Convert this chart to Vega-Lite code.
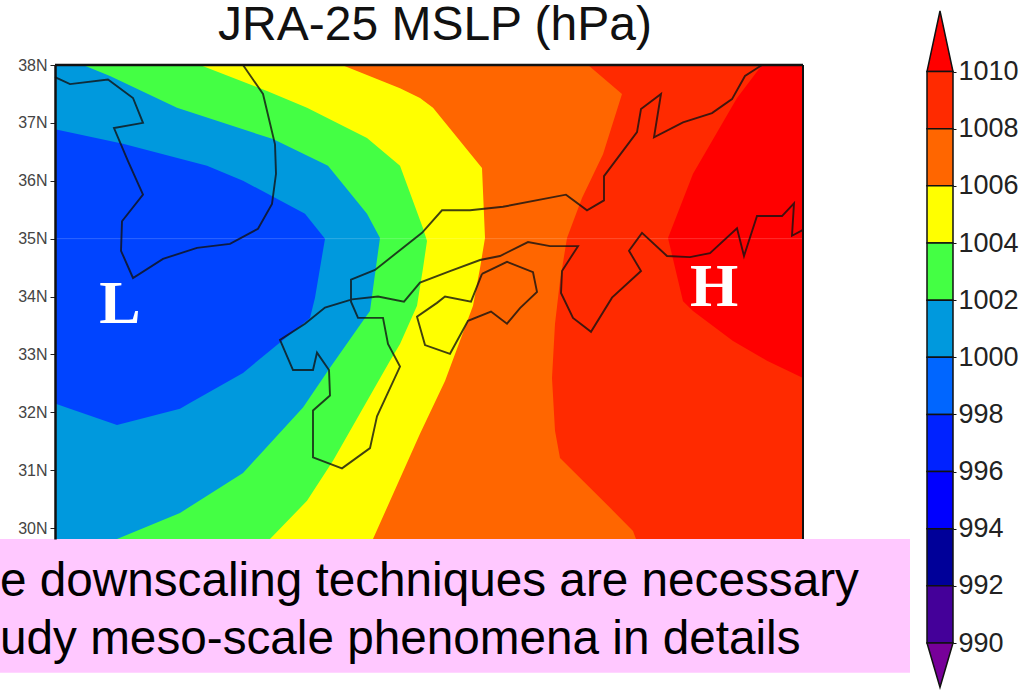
{"$schema":"https://vega.github.io/schema/vega-lite/v6.json","padding":{"left":0,"top":2,"right":0,"bottom":0},"background":"white","spacing":14,"config":{"view":{"stroke":null},"font":"Liberation Sans"},
"resolve":{"scale":{"color":"independent"}},
"datasets":{"one":[{"note":"annotation"}],"bands":[
{"band":">1010","lat":38,"west":125,"east":139.96},{"band":">1010","lat":29.81,"west":125,"east":139.96},
{"band":"1008-1010","lat":38,"west":125,"east":139.14},{"band":"1008-1010","lat":37.43,"west":125,"east":138.64},{"band":"1008-1010","lat":36.12,"west":125,"east":137.76},{"band":"1008-1010","lat":35.01,"west":125,"east":137.26},{"band":"1008-1010","lat":33.92,"west":125,"east":137.56},{"band":"1008-1010","lat":33.75,"west":125,"east":137.76},{"band":"1008-1010","lat":33.23,"west":125,"east":138.56},{"band":"1008-1010","lat":32.89,"west":125,"east":139.24},{"band":"1008-1010","lat":32.59,"west":125,"east":139.96},{"band":"1008-1010","lat":29.81,"west":125,"east":139.96},
{"band":"1006-1008","lat":38,"west":125,"east":135.66},{"band":"1006-1008","lat":37.5,"west":125,"east":136.34},{"band":"1006-1008","lat":36.46,"west":125,"east":135.96},{"band":"1006-1008","lat":35.7,"west":125,"east":135.54},{"band":"1006-1008","lat":35.01,"west":125,"east":135.24},{"band":"1006-1008","lat":34.27,"west":125,"east":135.1},{"band":"1006-1008","lat":33.53,"west":125,"east":135},{"band":"1006-1008","lat":32.59,"west":125,"east":134.94},{"band":"1006-1008","lat":31.68,"west":125,"east":135},{"band":"1006-1008","lat":31.21,"west":125,"east":135.1},{"band":"1006-1008","lat":30.3,"west":125,"east":136.16},{"band":"1006-1008","lat":29.95,"west":125,"east":136.56},{"band":"1006-1008","lat":29.81,"west":125,"east":136.62},
{"band":"1004-1006","lat":38,"west":125,"east":130.74},{"band":"1004-1006","lat":37.6,"west":125,"east":131.9},{"band":"1004-1006","lat":37.43,"west":125,"east":132.3},{"band":"1004-1006","lat":37.26,"west":125,"east":132.56},{"band":"1004-1006","lat":36.22,"west":125,"east":133.54},{"band":"1004-1006","lat":35.01,"west":125,"east":133.6},{"band":"1004-1006","lat":34.49,"west":125,"east":133.5},{"band":"1004-1006","lat":33.84,"west":125,"east":133.36},{"band":"1004-1006","lat":32.54,"west":125,"east":132.8},{"band":"1004-1006","lat":31.63,"west":125,"east":132.3},{"band":"1004-1006","lat":29.81,"west":125,"east":131.36},
{"band":"1002-1004","lat":38,"west":125,"east":127.9},{"band":"1002-1004","lat":37.55,"west":125,"east":129.24},{"band":"1002-1004","lat":37.26,"west":125,"east":130.04},{"band":"1002-1004","lat":36.74,"west":125,"east":131.24},{"band":"1002-1004","lat":36.26,"west":125,"east":131.9},{"band":"1002-1004","lat":35.18,"west":125,"east":132.36},{"band":"1002-1004","lat":34.96,"west":125,"east":132.44},{"band":"1002-1004","lat":34.49,"west":125,"east":132.36},{"band":"1002-1004","lat":33.84,"west":125,"east":132.24},{"band":"1002-1004","lat":33.18,"west":125,"east":131.9},{"band":"1002-1004","lat":32.89,"west":125,"east":131.7},{"band":"1002-1004","lat":31.16,"west":125,"east":130.56},{"band":"1002-1004","lat":30.47,"west":125,"east":130.04},{"band":"1002-1004","lat":29.81,"west":125,"east":129.3},
{"band":"1000-1002","lat":38,"west":125,"east":125.56},{"band":"1000-1002","lat":37.81,"west":125,"east":126.1},{"band":"1000-1002","lat":37.26,"west":125,"east":127.44},{"band":"1000-1002","lat":36.72,"west":125,"east":129.36},{"band":"1000-1002","lat":36.26,"west":125,"east":130.46},{"band":"1000-1002","lat":35.43,"west":125,"east":131.24},{"band":"1000-1002","lat":35.01,"west":125,"east":131.5},{"band":"1000-1002","lat":34.39,"west":125,"east":131.4},{"band":"1000-1002","lat":33.75,"west":125,"east":131.3},{"band":"1000-1002","lat":33.58,"west":125,"east":131.16},{"band":"1000-1002","lat":32.77,"west":125,"east":130.5},{"band":"1000-1002","lat":32.08,"west":125,"east":129.96},{"band":"1000-1002","lat":30.95,"west":125,"east":128.76},{"band":"1000-1002","lat":30.26,"west":125,"east":127.5},{"band":"1000-1002","lat":29.81,"west":125,"east":126.24},
{"band":"998-1000","lat":36.89,"west":125,"east":125},{"band":"998-1000","lat":36.64,"west":125,"east":126.36},{"band":"998-1000","lat":36.26,"west":125,"east":128.04},{"band":"998-1000","lat":36,"west":125,"east":128.76},{"band":"998-1000","lat":35.43,"west":125,"east":130},{"band":"998-1000","lat":35,"west":125,"east":130.4},{"band":"998-1000","lat":33.98,"west":125,"east":130.2},{"band":"998-1000","lat":33.63,"west":125,"east":130.1},{"band":"998-1000","lat":32.68,"west":125,"east":128.76},{"band":"998-1000","lat":32.15,"west":125,"east":127.68},{"band":"998-1000","lat":32.06,"west":125.3,"east":127.5},{"band":"998-1000","lat":31.78,"west":126.24,"east":126.24}
],
"coast":[
{"seg":"korea","n":1,"lon":125,"lat":37.79},{"seg":"korea","n":2,"lon":125.3,"lat":37.67},{"seg":"korea","n":3,"lon":126.06,"lat":37.75},{"seg":"korea","n":4,"lon":126.56,"lat":37.43},{"seg":"korea","n":5,"lon":126.76,"lat":37},{"seg":"korea","n":6,"lon":126.18,"lat":36.91},{"seg":"korea","n":7,"lon":126.46,"lat":36.34},{"seg":"korea","n":8,"lon":126.76,"lat":35.76},{"seg":"korea","n":9,"lon":126.34,"lat":35.3},{"seg":"korea","n":10,"lon":126.32,"lat":34.79},{"seg":"korea","n":11,"lon":126.56,"lat":34.32},{"seg":"korea","n":12,"lon":127.16,"lat":34.65},{"seg":"korea","n":13,"lon":127.84,"lat":34.84},{"seg":"korea","n":14,"lon":128.5,"lat":34.91},{"seg":"korea","n":15,"lon":129.06,"lat":35.17},{"seg":"korea","n":16,"lon":129.34,"lat":35.6},{"seg":"korea","n":17,"lon":129.42,"lat":36.12},{"seg":"korea","n":18,"lon":129.4,"lat":36.63},{"seg":"korea","n":19,"lon":129.16,"lat":37.5},{"seg":"korea","n":20,"lon":128.76,"lat":38},
{"seg":"japan","n":1,"lon":139.14,"lat":38},{"seg":"japan","n":2,"lon":138.8,"lat":37.81},{"seg":"japan","n":3,"lon":138.54,"lat":37.41},{"seg":"japan","n":4,"lon":138.14,"lat":37.17},{"seg":"japan","n":5,"lon":137.56,"lat":37.01},{"seg":"japan","n":6,"lon":136.98,"lat":36.75},{"seg":"japan","n":7,"lon":137.12,"lat":37.5},{"seg":"japan","n":8,"lon":136.72,"lat":37.24},{"seg":"japan","n":9,"lon":136.64,"lat":36.84},{"seg":"japan","n":10,"lon":135.98,"lat":36.08},{"seg":"japan","n":11,"lon":135.98,"lat":35.66},{"seg":"japan","n":12,"lon":135.64,"lat":35.49},{"seg":"japan","n":13,"lon":135.22,"lat":35.76},{"seg":"japan","n":14,"lon":133.96,"lat":35.55},{"seg":"japan","n":15,"lon":133.3,"lat":35.49},{"seg":"japan","n":16,"lon":132.74,"lat":35.49},{"seg":"japan","n":17,"lon":132.34,"lat":35.1},{"seg":"japan","n":18,"lon":131.4,"lat":34.46},{"seg":"japan","n":19,"lon":130.92,"lat":34.29},{"seg":"japan","n":20,"lon":130.92,"lat":33.91},{"seg":"japan","n":21,"lon":131.06,"lat":33.63},{"seg":"japan","n":22,"lon":131.56,"lat":33.63},{"seg":"japan","n":23,"lon":131.66,"lat":33.18},{"seg":"japan","n":24,"lon":131.9,"lat":32.79},{"seg":"japan","n":25,"lon":131.44,"lat":31.93},{"seg":"japan","n":26,"lon":131.3,"lat":31.38},{"seg":"japan","n":27,"lon":130.74,"lat":31.03},{"seg":"japan","n":28,"lon":130.16,"lat":31.22},{"seg":"japan","n":29,"lon":130.16,"lat":32.03},{"seg":"japan","n":30,"lon":130.5,"lat":32.29},{"seg":"japan","n":31,"lon":130.48,"lat":32.73},{"seg":"japan","n":32,"lon":130.24,"lat":33.03},{"seg":"japan","n":33,"lon":130.16,"lat":32.73},{"seg":"japan","n":34,"lon":129.76,"lat":32.73},{"seg":"japan","n":35,"lon":129.5,"lat":33.25},{"seg":"japan","n":36,"lon":130,"lat":33.53},{"seg":"japan","n":37,"lon":130.4,"lat":33.81},{"seg":"japan","n":38,"lon":130.94,"lat":33.95},{"seg":"japan","n":39,"lon":131.46,"lat":34},{"seg":"japan","n":40,"lon":131.98,"lat":33.91},{"seg":"japan","n":41,"lon":132.3,"lat":34.24},{"seg":"japan","n":42,"lon":132.9,"lat":34.44},{"seg":"japan","n":43,"lon":133.5,"lat":34.63},{"seg":"japan","n":44,"lon":133.9,"lat":34.7},{"seg":"japan","n":45,"lon":134.46,"lat":34.94},{"seg":"japan","n":46,"lon":134.9,"lat":34.87},{"seg":"japan","n":47,"lon":135.46,"lat":34.87},{"seg":"japan","n":48,"lon":135.14,"lat":34.44},{"seg":"japan","n":49,"lon":135.12,"lat":34.06},{"seg":"japan","n":50,"lon":135.36,"lat":33.63},{"seg":"japan","n":51,"lon":135.72,"lat":33.39},{"seg":"japan","n":52,"lon":136.14,"lat":33.98},{"seg":"japan","n":53,"lon":136.72,"lat":34.44},{"seg":"japan","n":54,"lon":136.48,"lat":34.79},{"seg":"japan","n":55,"lon":136.74,"lat":35.1},{"seg":"japan","n":56,"lon":137.24,"lat":34.7},{"seg":"japan","n":57,"lon":137.7,"lat":34.68},{"seg":"japan","n":58,"lon":138.1,"lat":34.75},{"seg":"japan","n":59,"lon":138.64,"lat":35.18},{"seg":"japan","n":60,"lon":138.78,"lat":34.7},{"seg":"japan","n":61,"lon":139.04,"lat":35.39},{"seg":"japan","n":62,"lon":139.54,"lat":35.39},{"seg":"japan","n":63,"lon":139.78,"lat":35.61},{"seg":"japan","n":64,"lon":139.74,"lat":35.05},{"seg":"japan","n":65,"lon":139.96,"lat":35.15},
{"seg":"shikoku","n":1,"lon":133.54,"lat":34.39},{"seg":"shikoku","n":2,"lon":134.04,"lat":34.6},{"seg":"shikoku","n":3,"lon":134.56,"lat":34.42},{"seg":"shikoku","n":4,"lon":134.64,"lat":34.08},{"seg":"shikoku","n":5,"lon":134.3,"lat":33.8},{"seg":"shikoku","n":6,"lon":134.04,"lat":33.53},{"seg":"shikoku","n":7,"lon":133.72,"lat":33.74},{"seg":"shikoku","n":8,"lon":133.26,"lat":33.58},{"seg":"shikoku","n":9,"lon":132.9,"lat":33.01},{"seg":"shikoku","n":10,"lon":132.4,"lat":33.16},{"seg":"shikoku","n":11,"lon":132.24,"lat":33.65},{"seg":"shikoku","n":12,"lon":132.64,"lat":33.89},{"seg":"shikoku","n":13,"lon":132.8,"lat":34},{"seg":"shikoku","n":14,"lon":133.32,"lat":33.91},{"seg":"shikoku","n":15,"lon":133.54,"lat":34.39}
],
"scale":[
{"band":">1010","hPa":1012.12,"l":0.5,"r":0.5},{"band":">1010","hPa":1010,"l":0,"r":1},
{"band":"1008-1010","hPa":1010,"l":0,"r":1},{"band":"1008-1010","hPa":1008,"l":0,"r":1},
{"band":"1006-1008","hPa":1008,"l":0,"r":1},{"band":"1006-1008","hPa":1006,"l":0,"r":1},
{"band":"1004-1006","hPa":1006,"l":0,"r":1},{"band":"1004-1006","hPa":1004,"l":0,"r":1},
{"band":"1002-1004","hPa":1004,"l":0,"r":1},{"band":"1002-1004","hPa":1002,"l":0,"r":1},
{"band":"1000-1002","hPa":1002,"l":0,"r":1},{"band":"1000-1002","hPa":1000,"l":0,"r":1},
{"band":"998-1000","hPa":1000,"l":0,"r":1},{"band":"998-1000","hPa":998,"l":0,"r":1},
{"band":"996-998","hPa":998,"l":0,"r":1},{"band":"996-998","hPa":996,"l":0,"r":1},
{"band":"994-996","hPa":996,"l":0,"r":1},{"band":"994-996","hPa":994,"l":0,"r":1},
{"band":"992-994","hPa":994,"l":0,"r":1},{"band":"992-994","hPa":992,"l":0,"r":1},
{"band":"990-992","hPa":992,"l":0,"r":1},{"band":"990-992","hPa":990,"l":0,"r":1},
{"band":"<990","hPa":990,"l":0,"r":1},{"band":"<990","hPa":988.45,"l":0.5,"r":0.5}
]},
"hconcat":[
{"width":748,"height":474,
"title":{"text":"JRA-25 MSLP (hPa)","font":"Liberation Sans","fontSize":48,"fontWeight":"normal","color":"#111","offset":7,"dx":6},
"layer":[
{"data":{"name":"bands"},"mark":{"type":"area","orient":"horizontal"},
"encoding":{"y":{"field":"lat","type":"quantitative","scale":{"domain":[29.81,38],"nice":false,"zero":false},
"axis":{"title":null,"values":[30,31,32,33,34,35,36,37,38],"labelExpr":"datum.value+'N'","grid":false,"labelFontSize":16,"labelColor":"#444","labelFont":"Liberation Sans","tickColor":"#222","tickSize":5,"labelPadding":3,"domainColor":"#111","domainWidth":2.5,"zindex":1}},
"x":{"field":"west","type":"quantitative","scale":{"domain":[125,139.96],"nice":false,"zero":false},"axis":null},
"x2":{"field":"east"},
"color":{"field":"band","type":"nominal","legend":null,"sort":null,"scale":{"domain":[">1010","1008-1010","1006-1008","1004-1006","1002-1004","1000-1002","998-1000"],"range":["#ff0000","#ff2a00","#ff6600","#ffff00","#44ff44","#0099dd","#0044ff"]}}}},
{"data":{"name":"one"},"mark":{"type":"rule","color":"#ffffff","opacity":0.18,"strokeWidth":1},"encoding":{"y":{"datum":35}}},
{"data":{"name":"coast"},"mark":{"type":"line","color":"#111","strokeWidth":1.9,"opacity":0.8},
"encoding":{"x":{"field":"lon","type":"quantitative"},"y":{"field":"lat","type":"quantitative"},"detail":{"field":"seg"},"order":{"field":"n","type":"quantitative"}}},
{"data":{"name":"one"},"mark":{"type":"rule","color":"#111","strokeWidth":2.5},"encoding":{"y":{"datum":38}}},
{"data":{"name":"one"},"mark":{"type":"rule","color":"#111","strokeWidth":2},"encoding":{"x":{"datum":139.96}}},
{"data":{"name":"one"},"mark":{"type":"text","text":"L","font":"Liberation Serif","fontWeight":"bold","fontSize":62,"color":"white","align":"center","baseline":"alphabetic"},"encoding":{"x":{"datum":126.3},"y":{"datum":33.54}}},
{"data":{"name":"one"},"mark":{"type":"text","text":"H","font":"Liberation Serif","fontWeight":"bold","fontSize":62,"color":"white","align":"center","baseline":"alphabetic"},"encoding":{"x":{"datum":138.18},"y":{"datum":33.84}}},
{"data":{"name":"one"},"mark":{"type":"rect","color":"#ffc8ff"},"encoding":{"x":{"datum":123.9},"x2":{"datum":142.1},"y":{"datum":29.81},"y2":{"datum":27.5}}},
{"data":{"name":"one"},"mark":{"type":"text","text":"e downscaling techniques are necessary","font":"Liberation Sans","fontSize":47.7,"color":"black","align":"left","baseline":"alphabetic"},"encoding":{"x":{"datum":123.9},"y":{"datum":28.83}}},
{"data":{"name":"one"},"mark":{"type":"text","text":"udy meso-scale phenomena in details","font":"Liberation Sans","fontSize":47.7,"color":"black","align":"left","baseline":"alphabetic"},"encoding":{"x":{"datum":123.9},"y":{"datum":27.83}}}
]},
{"width":26,"height":578,"data":{"name":"scale"},
"mark":{"type":"area","orient":"horizontal","stroke":"#111","strokeWidth":1.5},
"encoding":{"y":{"field":"hPa","type":"quantitative","scale":{"domain":[990,1010.23],"nice":false,"zero":false},
"axis":{"title":null,"orient":"right","domain":false,"grid":false,"format":"d","values":[990,992,994,996,998,1000,1002,1004,1006,1008,1010],"labelFontSize":27,"labelColor":"#222","labelFont":"Liberation Sans","tickSize":3,"tickColor":"#111","labelPadding":2}},
"x":{"field":"l","type":"quantitative","scale":{"domain":[0,1],"nice":false},"axis":null},
"x2":{"field":"r"},
"color":{"field":"band","type":"nominal","legend":null,"sort":null,"scale":{"domain":[">1010","1008-1010","1006-1008","1004-1006","1002-1004","1000-1002","998-1000","996-998","994-996","992-994","990-992","<990"],"range":["#ff0000","#ff2a00","#ff6600","#ffff00","#44ff44","#0099dd","#0066ff","#0022ff","#0000ff","#000099","#440099","#770099"]}}}}
]}
